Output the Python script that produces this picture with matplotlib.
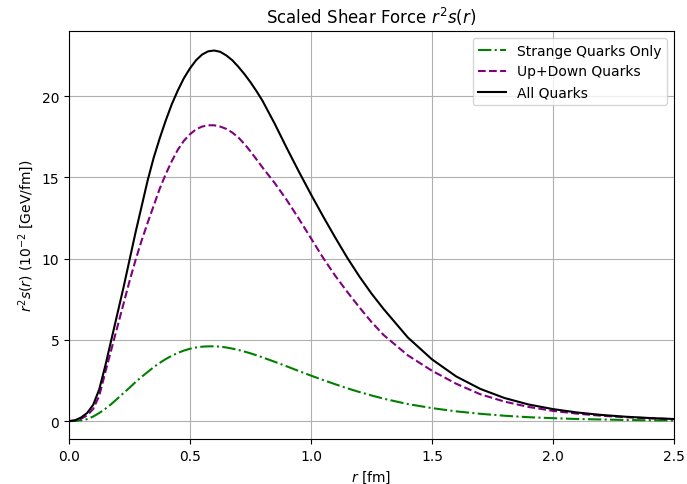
import matplotlib
matplotlib.use('Agg')
import matplotlib.pyplot as plt

# radial grid [fm] and curves (units of 10^-2 GeV/fm)
r = [0.0, 0.025, 0.05, 0.075, 0.1, 0.125, 0.15, 0.175, 0.2, 0.225, 0.25,
     0.275, 0.3, 0.325, 0.35, 0.375, 0.4, 0.425, 0.45, 0.475, 0.5, 0.525,
     0.55, 0.575, 0.6, 0.625, 0.65, 0.675, 0.7, 0.725, 0.75, 0.775, 0.8,
     0.85, 0.9, 0.95, 1.0, 1.05, 1.1, 1.15, 1.2, 1.25, 1.3,
     1.4, 1.5, 1.6, 1.7, 1.8, 1.9, 2.0, 2.1, 2.2, 2.3, 2.4, 2.5]

strange = [0.0, 0.01, 0.05, 0.12, 0.28, 0.5, 0.75, 1.05, 1.38, 1.72, 2.05,
           2.4, 2.72, 3.02, 3.32, 3.58, 3.82, 4.02, 4.2, 4.34, 4.45, 4.53,
           4.58, 4.6, 4.6, 4.58, 4.53, 4.46, 4.38, 4.28, 4.17, 4.05, 3.92,
           3.65, 3.37, 3.08, 2.8, 2.53, 2.27, 2.02, 1.79, 1.58, 1.38,
           1.05, 0.8, 0.6, 0.45, 0.33, 0.24, 0.18, 0.13, 0.1, 0.07, 0.05, 0.04]

updown = [0.0, 0.03, 0.15, 0.35, 0.75, 1.55, 3.0, 4.4, 5.8, 7.2, 8.6,
          9.9, 11.1, 12.2, 13.25, 14.3, 15.2, 16.0, 16.7, 17.25, 17.65, 17.95,
          18.12, 18.2, 18.2, 18.12, 17.98, 17.75, 17.45, 17.05, 16.6, 16.1, 15.6,
          14.65, 13.6, 12.45, 11.25, 10.05, 8.95, 7.95, 7.0, 6.1, 5.3,
          4.05, 3.1, 2.3, 1.65, 1.2, 0.87, 0.63, 0.46, 0.33, 0.24, 0.17, 0.12]

allq = [0.0, 0.05, 0.22, 0.5, 1.0, 1.95, 3.4, 5.0, 6.6, 8.2, 9.9,
        11.6, 13.2, 14.8, 16.2, 17.4, 18.5, 19.5, 20.35, 21.1, 21.7, 22.2,
        22.55, 22.75, 22.8, 22.72, 22.5, 22.2, 21.8, 21.35, 20.85, 20.3, 19.7,
        18.3, 16.8, 15.35, 13.95, 12.6, 11.3, 10.05, 8.9, 7.85, 6.9,
        5.15, 3.8, 2.75, 1.98, 1.42, 1.02, 0.74, 0.53, 0.38, 0.27, 0.19, 0.13]

fig = plt.figure(figsize=(6.87, 4.85), dpi=100)
ax = fig.add_axes([0.1004, 0.0928, 0.8806, 0.8412])

ax.plot(r, strange, '-.', color='green', label='Strange Quarks Only')
ax.plot(r, updown, '--', color='purple', label='Up+Down Quarks')
ax.plot(r, allq, '-', color='black', label='All Quarks')

ax.set_xlim(0, 2.5)
ax.set_ylim(-1.1, 24)
ax.grid(True)
ax.set_title('Scaled Shear Force $r^2s(r)$')
ax.set_xlabel('$r$ [fm]')
ax.set_ylabel('$r^2s(r)$ ($10^{-2}$ [GeV/fm])')
ax.legend(loc='upper right')

fig.savefig('out.png', dpi=100)
